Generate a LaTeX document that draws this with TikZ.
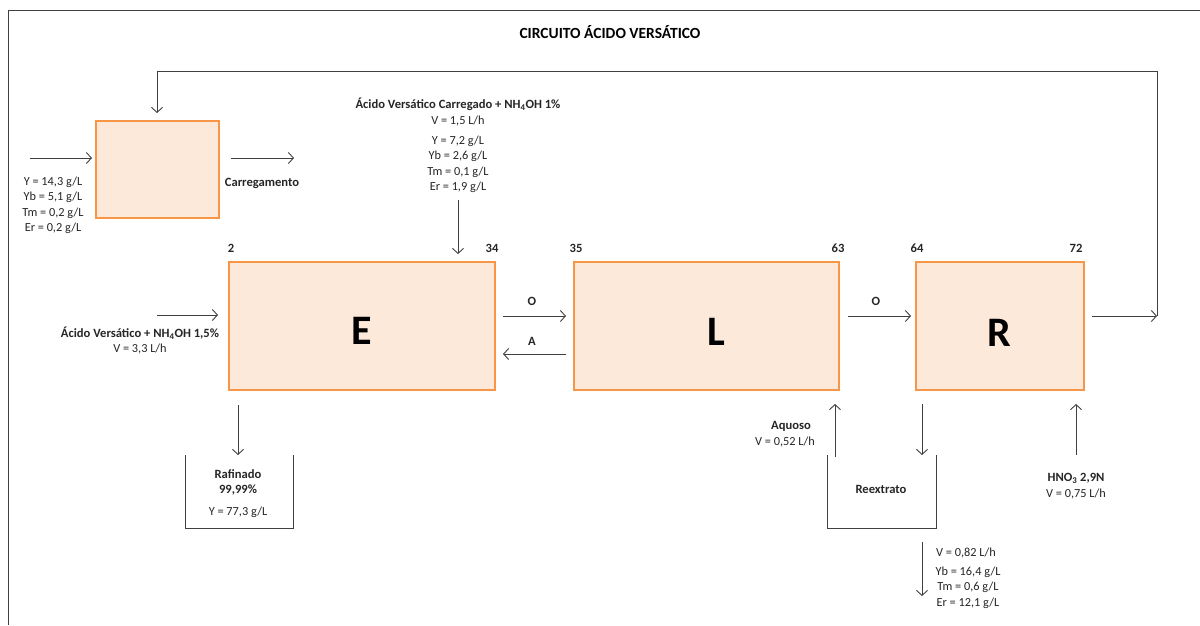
\documentclass[tikz,border=0pt]{standalone}
\usepackage{fontspec}
\setmainfont{Carlito}
\usetikzlibrary{arrows.meta}
\definecolor{boxfill}{HTML}{FDE9D9}
\definecolor{boxline}{HTML}{F79646}
\definecolor{ln}{HTML}{404040}
\definecolor{tx}{HTML}{262626}
\begin{document}
\begin{tikzpicture}[x=1pt,y=-1pt,
  unit/.style={draw=boxline, fill=boxfill, line width=2pt, inner sep=0},
  biglbl/.style={font=\fontsize{42}{44}\selectfont\bfseries, text=black, inner sep=0},
  flow/.style={draw=ln, line width=0.9pt, -{Straight Barb[length=5pt,width=11pt]}},
  wall/.style={draw=ln, line width=0.9pt},
  txt/.style={font=\fontsize{12.3}{15.2}\selectfont, text=tx, align=center, inner sep=0},
  btxt/.style={txt, font=\fontsize{12.6}{16}\selectfont\bfseries},
  ttl/.style={font=\fontsize{15.5}{18}\selectfont\bfseries, text=black, inner sep=0}]
\useasboundingbox (0,0) rectangle (1200,625);
\fill[white] (0,0) rectangle (1200,625);
% frame
\draw[ln, line width=1pt] (8,625) -- (8,10) -- (1200,10);
\node[ttl] (title) at (610,32) {CIRCUITO ÁCIDO VERSÁTICO};

% units
\node[unit, minimum width=123pt, minimum height=97pt] (C) at (157.5,169.5) {};
\node[unit, minimum width=266pt, minimum height=128pt] (E) at (362,326) {};
\node[unit, minimum width=265pt, minimum height=128pt] (L) at (706.5,326) {};
\node[unit, minimum width=168pt, minimum height=128pt] (R) at (1000,326) {};
\node[biglbl] (Elbl) at (362,331) {E};
\node[biglbl] (Llbl) at (716,332) {L};
\node[biglbl] (Rlbl) at (999,333) {R};

% stage numbers
\node[btxt] (n2) at (231,248) {2};
\node[btxt] (n34) at (492,248) {34};
\node[btxt] (n35) at (576,248) {35};
\node[btxt] (n63) at (838,248) {63};
\node[btxt] (n64) at (917,248) {64};
\node[btxt] (n72) at (1076,248) {72};

% loading unit
\coordinate (cin) at (30,158);
\coordinate (cinE) at (92,158);
\draw[flow] (cin) -- (cinE);
\coordinate (cout) at (231,158);
\coordinate (coutE) at (294,158);
\draw[flow] (cout) -- (coutE);
\node[btxt] (carr) at (262,183) {Carregamento};
\node[txt, anchor=north] (feed) at (53,177) {Y = 14,3 g/L\\Yb = 5,1 g/L\\Tm = 0,2 g/L\\Er = 0,2 g/L};

% feed organic into E
\coordinate (ein) at (157,315);
\draw[flow] (ein) -- ([xshift=-10pt]E.west |- ein);
\node[btxt] (orgA) at (140,333) {Ácido Versático + NH\textsubscript{4}OH 1,5\%};
\node[txt] (orgV) at (140,349) {V = 3,3 L/h};

% loaded organic into E (top)
\node[btxt] (ldA) at (458,104) {Ácido Versático Carregado + NH\textsubscript{4}OH 1\%};
\node[txt] (ldV) at (458,121) {V = 1,5 L/h};
\node[txt, anchor=north] (ldC) at (458,136) {Y = 7,2 g/L\\Yb = 2,6 g/L\\Tm = 0,1 g/L\\Er = 1,9 g/L};
\coordinate (ldS) at (458,200);
\draw[flow] (ldS) -- ([yshift=7pt]E.north -| ldS);

% E <-> L
\coordinate (o1s) at (503,316);
\coordinate (o1e) at (566,316);
\draw[flow] (o1s) -- (o1e);
\node[btxt] (o1) at (532,301) {O};
\coordinate (a1s) at (566,354);
\coordinate (a1e) at (503,354);
\draw[flow] (a1s) -- (a1e);
\node[btxt] (a1) at (532,341) {A};

% L -> R
\coordinate (o2s) at (848,316);
\coordinate (o2e) at (911,316);
\draw[flow] (o2s) -- (o2e);
\node[btxt] (o2) at (876,301) {O};

% R out and recycle
\coordinate (rout) at (1092,316);
\coordinate (rc) at (1157,316);
\draw[flow] (rout) -- (rc);
\coordinate (ctop) at (157,113);
\draw[flow] (rc) -- (1157,71) -- (157,71) -- (ctop);

% raffinate
\coordinate (rafS) at (238,405);
\coordinate (rafE) at (238,455);
\draw[flow] (rafS) -- (rafE);
\draw[wall] (185,455) -- (185,528) -- (293,528) -- (293,455);
\node[btxt] (raf) at (238,474) {Rafinado};
\node[btxt] (rafP) at (238,490) {99,99\%};
\node[txt] (rafY) at (238,512) {Y = 77,3 g/L};

% strip liquor tank
\draw[wall] (827,455) -- (827,528) -- (936,528) -- (936,455);
\node[btxt] (reex) at (881,489) {Reextrato};
\coordinate (aqS) at (835,457);
\draw[flow] (aqS) -- ([yshift=-13pt]L.south -| aqS);
\node[btxt] (aq) at (791,426) {Aquoso};
\node[txt] (aqV) at (785,442) {V = 0,52 L/h};
\coordinate (rdS) at ([yshift=-13pt]R.south -| 922,0);
\coordinate (rdE) at (922,455);
\draw[flow] (rdS) -- (rdE);

% product out
\coordinate (pS) at (922,542);
\coordinate (pE) at (922,596);
\draw[flow] (pS) -- (pE);
\node[txt] (pV) at (966,553) {V = 0,82 L/h};
\node[txt, anchor=north] (pC) at (968,567) {Yb = 16,4 g/L\\Tm = 0,6 g/L\\Er = 12,1 g/L};

% nitric acid into R
\coordinate (hS) at (1076,455);
\draw[flow] (hS) -- ([yshift=-13pt]R.south -| hS);
\node[btxt] (hno) at (1076,478) {HNO\textsubscript{3} 2,9N};
\node[txt] (hV) at (1076,494) {V = 0,75 L/h};
\end{tikzpicture}
\end{document}
